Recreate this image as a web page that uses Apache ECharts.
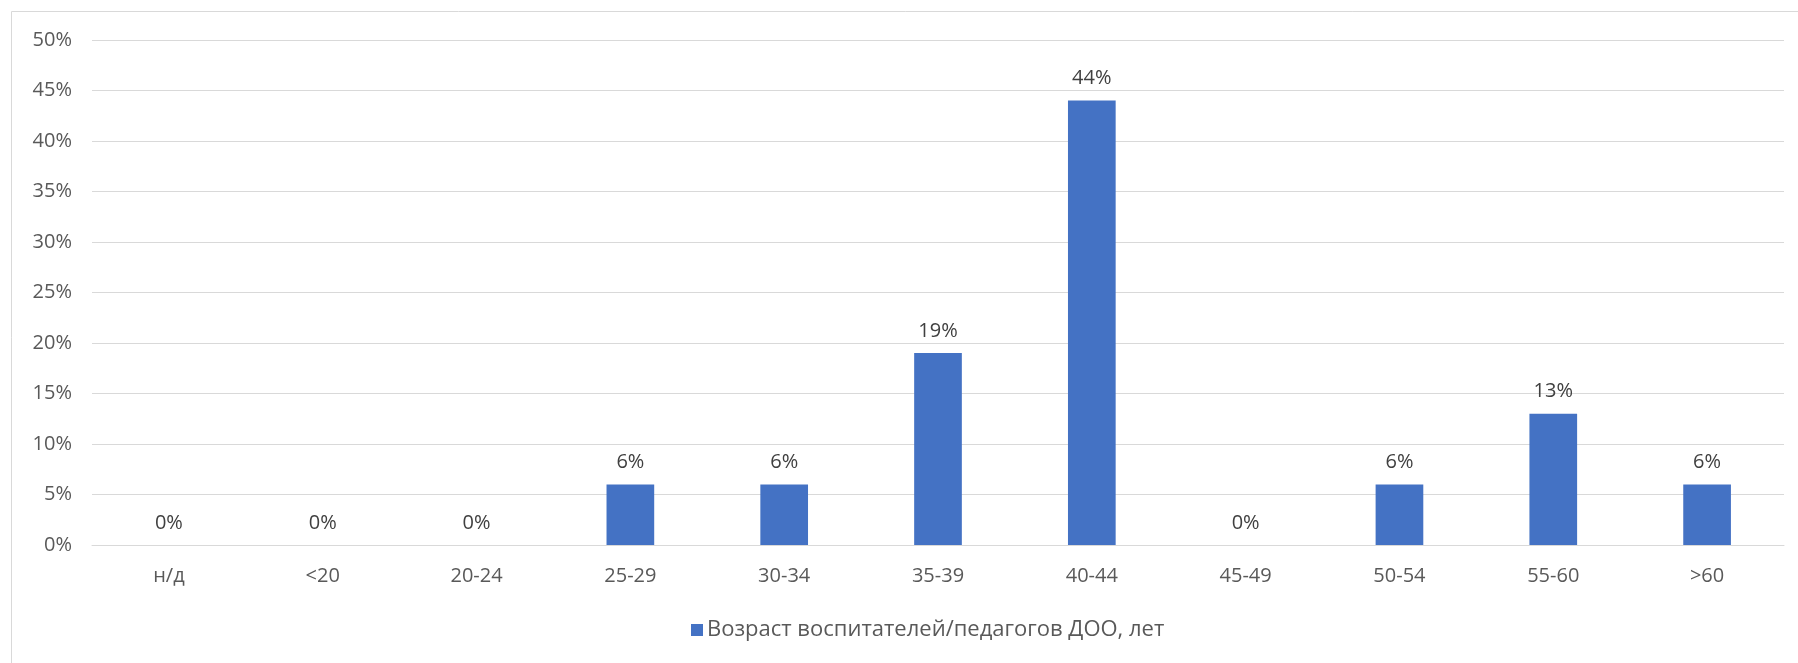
<!DOCTYPE html>
<html><head><meta charset="utf-8">
<script src="https://cdn.jsdelivr.net/npm/echarts@6/dist/echarts.min.js"></script>
<style>html,body{margin:0;padding:0;background:#fff;}#c{width:1798px;height:663px;}</style>
</head><body><div id="c"></div>
<script>
const categories = ["н/д","<20","20-24","25-29","30-34","35-39","40-44","45-49","50-54","55-60",">60"];
const values = [0,0,0,6,6,19,44,0,6,13,6];
const yTicks = [0,5,10,15,20,25,30,35,40,45,50];
const seriesName = "Возраст воспитателей/педагогов ДОО, лет";

const font = "Open Sans";
const fs = 20;
const chart = echarts.init(document.getElementById('c'));
chart.setOption({
  animation: false,
  graphic: [{
    type: 'rect', shape: {x: 11.5, y: 11.5, width: 1800, height: 700},
    style: {fill: 'none', stroke: '#D9D9D9', lineWidth: 1}, silent: true
  }],
  grid: {left: 92, right: 14, top: 40, bottom: 118},
  legend: {
    bottom: 17, left: 686,
    itemWidth: 12, itemHeight: 12, icon: 'rect',
    textStyle: {color: '#595959', fontSize: 22, fontFamily: font, padding: [0,0,0,-1]},
    data: [seriesName]
  },
  xAxis: {
    type: 'category', data: categories,
    axisLine: {lineStyle: {color: '#D9D9D9', width: 1}},
    axisTick: {show: false},
    axisLabel: {color: '#595959', fontSize: fs, fontFamily: font, margin: 21}
  },
  yAxis: {
    type: 'value', min: yTicks[0], max: yTicks[yTicks.length-1], interval: 5,
    axisLine: {show: false}, axisTick: {show: false},
    splitLine: {lineStyle: {color: '#D9D9D9', width: 1}},
    axisLabel: {color: '#595959', fontSize: fs, fontFamily: font, margin: 20, formatter: v => v + '%'}
  },
  series: [{
    name: seriesName, type: 'bar', data: values,
    barWidth: '31%',
    itemStyle: {color: '#4472C4'},
    label: {show: true, position: 'top', distance: 12, color: '#404040', fontSize: fs, fontFamily: font, formatter: p => p.value + '%'}
  }]
});
</script></body></html>
